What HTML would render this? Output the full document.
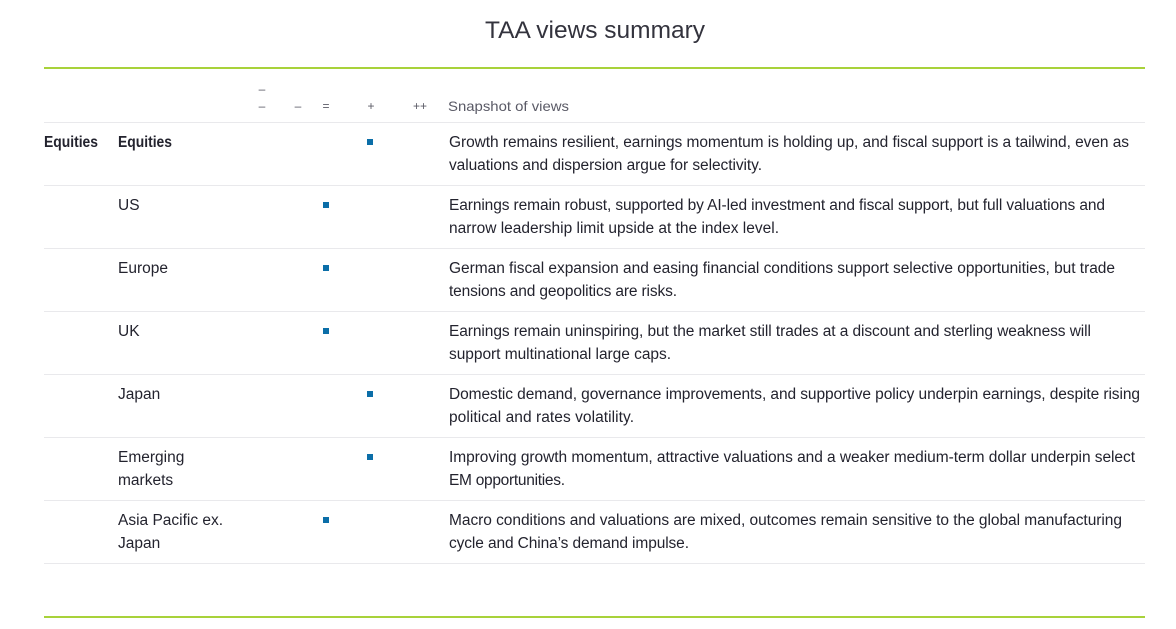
<!DOCTYPE html>
<html>
<head>
<meta charset="utf-8">
<style>
  html, body { margin:0; padding:0; background:#ffffff; }
  body { width:1176px; height:629px; overflow:hidden; }
  svg { display:block; }
  .t { font-family:"Liberation Sans", sans-serif; font-size:15.5px; fill:#23232e; }
  .b { font-weight:bold; }
  .h { font-family:"Liberation Sans", sans-serif; font-size:14px; fill:#5a5a66; }
  .s { font-family:"Liberation Sans", sans-serif; font-size:12px; fill:#5a5a66; }
</style>
</head>
<body>
<svg width="1176" height="629" viewBox="0 0 1176 629" xmlns="http://www.w3.org/2000/svg">
  <rect width="1176" height="629" fill="#ffffff"/>
  <!-- Title -->
  <text x="595" y="38" text-anchor="middle" font-family="Liberation Sans, sans-serif" font-size="24" fill="#33333d" textLength="220" lengthAdjust="spacingAndGlyphs">TAA views summary</text>
  <!-- green lines -->
  <rect x="44" y="67" width="1101" height="2" fill="#a8d23a"/>
  <rect x="44" y="616" width="1101" height="2" fill="#a8d23a"/>

  <!-- header -->
  <text class="s" x="262" y="93" text-anchor="middle">–</text>
  <text class="s" x="262" y="110" text-anchor="middle">–</text>
  <text class="s" x="298" y="110" text-anchor="middle">–</text>
  <text class="s" x="326" y="110" text-anchor="middle">=</text>
  <text class="s" x="371" y="110" text-anchor="middle">+</text>
  <text class="s" x="420" y="110" text-anchor="middle">++</text>
  <text class="h" x="448" y="111" textLength="121" lengthAdjust="spacingAndGlyphs">Snapshot of views</text>

  <!-- separators -->
  <g fill="#e9e9ec">
    <rect x="44" y="122" width="1101" height="1"/>
    <rect x="44" y="185" width="1101" height="1"/>
    <rect x="44" y="248" width="1101" height="1"/>
    <rect x="44" y="311" width="1101" height="1"/>
    <rect x="44" y="374" width="1101" height="1"/>
    <rect x="44" y="437" width="1101" height="1"/>
    <rect x="44" y="500" width="1101" height="1"/>
    <rect x="44" y="563" width="1101" height="1"/>
  </g>

  <!-- squares -->
  <g fill="#0b6ea8">
    <rect x="367" y="139" width="6" height="6"/>
    <rect x="323" y="202" width="6" height="6"/>
    <rect x="323" y="265" width="6" height="6"/>
    <rect x="323" y="328" width="6" height="6"/>
    <rect x="367" y="391" width="6" height="6"/>
    <rect x="367" y="454" width="6" height="6"/>
    <rect x="323" y="517" width="6" height="6"/>
  </g>

  <!-- Row 1 -->
  <text class="t b" x="44" y="147" textLength="54" lengthAdjust="spacingAndGlyphs">Equities</text>
  <text class="t b" x="118" y="147" textLength="54" lengthAdjust="spacingAndGlyphs">Equities</text>
  <text class="t" x="449" y="147" textLength="680" lengthAdjust="spacing">Growth remains resilient, earnings momentum is holding up, and fiscal support is a tailwind, even as</text>
  <text class="t" x="449" y="170" textLength="313" lengthAdjust="spacing">valuations and dispersion argue for selectivity.</text>

  <!-- Row 2 -->
  <text class="t" x="118" y="210">US</text>
  <text class="t" x="449" y="210" textLength="656" lengthAdjust="spacing">Earnings remain robust, supported by AI-led investment and fiscal support, but full valuations and</text>
  <text class="t" x="449" y="233" textLength="330" lengthAdjust="spacing">narrow leadership limit upside at the index level.</text>

  <!-- Row 3 -->
  <text class="t" x="118" y="273">Europe</text>
  <text class="t" x="449" y="273" textLength="666" lengthAdjust="spacing">German fiscal expansion and easing financial conditions support selective opportunities, but trade</text>
  <text class="t" x="449" y="296" textLength="228" lengthAdjust="spacing">tensions and geopolitics are risks.</text>

  <!-- Row 4 -->
  <text class="t" x="118" y="336">UK</text>
  <text class="t" x="449" y="336" textLength="642" lengthAdjust="spacing">Earnings remain uninspiring, but the market still trades at a discount and sterling weakness will</text>
  <text class="t" x="449" y="359" textLength="222" lengthAdjust="spacing">support multinational large caps.</text>

  <!-- Row 5 -->
  <text class="t" x="118" y="399">Japan</text>
  <text class="t" x="449" y="399" textLength="691" lengthAdjust="spacing">Domestic demand, governance improvements, and supportive policy underpin earnings, despite rising</text>
  <text class="t" x="449" y="422" textLength="185" lengthAdjust="spacing">political and rates volatility.</text>

  <!-- Row 6 -->
  <text class="t" x="118" y="462">Emerging</text>
  <text class="t" x="118" y="485">markets</text>
  <text class="t" x="449" y="462" textLength="686" lengthAdjust="spacing">Improving growth momentum, attractive valuations and a weaker medium-term dollar underpin select</text>
  <text class="t" x="449" y="485" textLength="116" lengthAdjust="spacing">EM opportunities.</text>

  <!-- Row 7 -->
  <text class="t" x="118" y="525">Asia Pacific ex.</text>
  <text class="t" x="118" y="548">Japan</text>
  <text class="t" x="449" y="525" textLength="673" lengthAdjust="spacing">Macro conditions and valuations are mixed, outcomes remain sensitive to the global manufacturing</text>
  <text class="t" x="449" y="548" textLength="240" lengthAdjust="spacing">cycle and China’s demand impulse.</text>
</svg>
</body>
</html>
